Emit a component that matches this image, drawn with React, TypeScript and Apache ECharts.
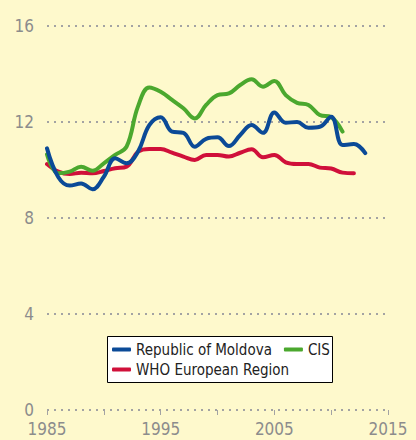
import React, { useEffect, useRef } from "react";
import * as echarts from "echarts";

const years = [1985,1986,1987,1988,1989,1990,1991,1992,1993,1994,1995,1996,1997,1998,1999,2000,2001,2002,2003,2004,2005,2006,2007,2008,2009,2010,2011,2012,2013];
const moldova = [10.9,9.7,9.35,9.44,9.2,9.72,10.49,10.28,10.76,11.87,12.2,11.6,11.55,10.97,11.3,11.36,11.0,11.46,11.87,11.55,12.4,11.97,12.0,11.76,11.8,12.22,11.04,11.08,10.7];
const cis = [10.65,9.86,9.93,10.14,9.97,10.28,10.63,10.97,12.64,13.44,13.26,12.92,12.57,12.15,12.71,13.12,13.19,13.54,13.78,13.47,13.71,13.12,12.8,12.71,12.29,12.2,11.6];
const who = [10.25,9.93,9.83,9.89,9.86,9.96,10.07,10.14,10.76,10.88,10.88,10.72,10.56,10.42,10.63,10.63,10.56,10.72,10.86,10.53,10.63,10.32,10.25,10.25,10.1,10.06,9.89,9.86];
const seriesNames = ["Republic of Moldova", "CIS", "WHO European Region"];
const yTicks = [0, 4, 8, 12, 16];
const xTickLabels = [1985, 1995, 2005, 2015];

const FONT = '"Liberation Sans Narrow", "DejaVu Sans Condensed", "Open Sans", sans-serif';

export default function App() {
  const ref = useRef<HTMLDivElement>(null);
  useEffect(() => {
    document.body.style.margin = "0";
    const chart = echarts.init(ref.current!, undefined, { renderer: "svg" });
    const pairs = (vals: number[]) => vals.map((v, i) => [years[i], v]);
    const grid = { color: "#a3a3a3", width: 2, type: [2, 5] as any };
    const legendCommon = {
      left: 112,
      padding: 0,
      itemGap: 12,
      itemWidth: 19,
      itemHeight: 4,
      icon: "roundRect",
      textStyle: { fontFamily: FONT, fontSize: 15, color: "#222" },
      z: 5,
    };
    chart.setOption({
      animation: false,
      backgroundColor: "#FEF9CC",
      grid: { left: 47, right: 28, top: 26, bottom: 30 },
      graphic: [
        {
          type: "rect",
          z: 0,
          shape: { x: 107.5, y: 336.5, width: 225, height: 46 },
          style: { fill: "#ffffff", stroke: "#000000", lineWidth: 1 },
        },
      ],
      legend: [
        { ...legendCommon, data: [seriesNames[0], seriesNames[1]], top: 342 },
        { ...legendCommon, data: [seriesNames[2]], top: 362 },
      ],
      xAxis: {
        type: "value",
        min: 1985,
        max: 2015,
        interval: 5,
        axisLine: { show: false },
        axisTick: { show: true, length: 5, lineStyle: { color: "#a3a3a3", width: 1 } },
        splitLine: { show: false },
        axisLabel: {
          margin: 10,
          fontFamily: FONT,
          fontSize: 17,
          color: "#8c8c8c",
          formatter: (v: number) => (xTickLabels.includes(v) ? String(v) : ""),
        },
      },
      yAxis: {
        type: "value",
        min: 0,
        max: 16,
        interval: 4,
        axisLine: { show: false },
        axisTick: { show: false },
        splitLine: { show: true, lineStyle: grid },
        axisLabel: {
          margin: 13,
          fontFamily: FONT,
          fontSize: 17,
          color: "#8c8c8c",
          verticalAlign: "middle",
          padding: [0, 0, 17, 0],
          formatter: (v: number) => (yTicks.includes(v) ? String(v) : ""),
        },
      },
      series: [
        {
          name: seriesNames[0],
          type: "line",
          data: pairs(moldova),
          smooth: 0.4,
          showSymbol: false,
          symbol: "none",
          lineStyle: { color: "#0B4A97", width: 4, cap: "round" },
          itemStyle: { color: "#0B4A97" },
          z: 4,
        },
        {
          name: seriesNames[1],
          type: "line",
          data: pairs(cis),
          smooth: 0.4,
          showSymbol: false,
          symbol: "none",
          lineStyle: { color: "#4BA82E", width: 4, cap: "round" },
          itemStyle: { color: "#4BA82E" },
          z: 3,
        },
        {
          name: seriesNames[2],
          type: "line",
          data: pairs(who),
          smooth: 0.4,
          showSymbol: false,
          symbol: "none",
          lineStyle: { color: "#D0103A", width: 4, cap: "round" },
          itemStyle: { color: "#D0103A" },
          z: 2,
        },
      ],
    });
    return () => chart.dispose();
  }, []);
  return <div ref={ref} style={{ width: 416, height: 440 }} />;
}
